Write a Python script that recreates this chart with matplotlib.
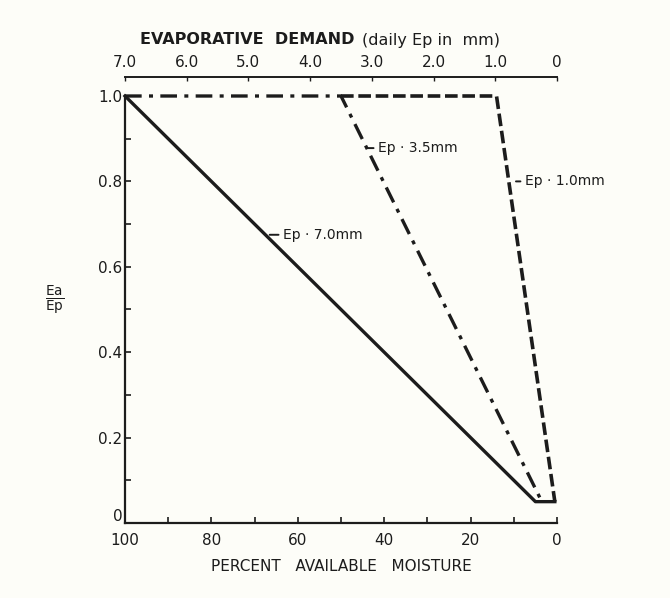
import matplotlib.pyplot as plt
from matplotlib.ticker import MultipleLocator
from matplotlib.transforms import ScaledTranslation

# Data
moist_70 = [100, 5, 0.5]
ratio_70 = [1.0, 0.05, 0.05]
moist_35 = [100, 50, 4]
ratio_35 = [1.0, 1.0, 0.06]
moist_10 = [50, 14, 0.5]
ratio_10 = [1.0, 1.0, 0.05]

x_ticks = [100, 80, 60, 40, 20, 0]
y_ticks = [0, 0.2, 0.4, 0.6, 0.8, 1.0]
y_labels = ["0", "0.2", "0.4", "0.6", "0.8", "1.0"]
ep_ticks = [7.0, 6.0, 5.0, 4.0, 3.0, 2.0, 1.0, 0]
ep_labels = ["7.0", "6.0", "5.0", "4.0", "3.0", "2.0", "1.0", "0"]

ink = "#1c1c1c"
bg = "#fdfdf8"

fig = plt.figure(figsize=(6.7, 5.98), dpi=100, facecolor=bg)
ax = fig.add_axes([125 / 670, 1 - 523 / 598, 432 / 670, 427 / 598], facecolor=bg)

ax.plot(moist_70, ratio_70, color=ink, lw=2.4, clip_on=False)
ax.plot(moist_35, ratio_35, color=ink, lw=2.4, dashes=(5, 2.2, 1.2, 2.2), clip_on=False)
ax.plot(moist_10, ratio_10, color=ink, lw=2.6, dashes=(3.5, 1.3), clip_on=False)

ax.set_xlim(100, 0)
ax.set_ylim(0, 1.0)
ax.spines["top"].set_visible(False)
ax.spines["right"].set_visible(False)
for s in ("left", "bottom"):
    ax.spines[s].set_linewidth(1.6)
    ax.spines[s].set_color(ink)

ax.set_xticks(x_ticks)
ax.set_yticks(y_ticks)
ax.set_yticklabels(y_labels)
ax.xaxis.set_minor_locator(MultipleLocator(10))
ax.yaxis.set_minor_locator(MultipleLocator(0.1))
ax.tick_params(which="both", direction="in", length=4, width=1.2, color=ink,
               labelsize=11, labelcolor=ink, pad=2)
ax.tick_params(axis="x", pad=7)

# lift the "0" on the y axis so it clears the "100"
zero_lbl = ax.get_yticklabels()[0]
zero_lbl.set_transform(zero_lbl.get_transform() + ScaledTranslation(0, 6 / 72, fig.dpi_scale_trans))

ax.set_xlabel("PERCENT   AVAILABLE   MOISTURE", fontsize=11, color=ink, labelpad=8)
fig.text(55 / 670, 1 - 300 / 598, r"$\frac{\mathrm{Ea}}{\mathrm{Ep}}$", fontsize=14,
         color=ink, ha="center", va="center")

# top scale: evaporative demand
top = ax.secondary_xaxis((523 - 77) / 427, functions=(lambda p: p * 0.07, lambda e: e / 0.07))
top.set_xticks(ep_ticks)
top.set_xticklabels(ep_labels)
top.tick_params(direction="in", length=3, width=1.0, labelsize=11, labelcolor=ink, color=ink, pad=5)
top.spines["top"].set_linewidth(1.4)
top.spines["top"].set_color(ink)
fig.text(355 / 670, 1 - 40 / 598, "EVAPORATIVE  DEMAND", fontsize=11.5, fontweight="bold",
         color=ink, ha="right", va="center")
fig.text(362 / 670, 1 - 40 / 598, "(daily Ep in  mm)", fontsize=11.5,
         color=ink, ha="left", va="center")

# curve labels
labels = [("Ep · 7.0mm", 66.5, 0.675, 63.5), ("Ep · 3.5mm", 44, 0.878, 41.5),
          ("Ep · 1.0mm", 9.5, 0.80, 7.5)]
for txt, px, py, tx in labels:
    ax.annotate(txt, xy=(px, py), xytext=(tx, py), fontsize=10, color=ink,
                va="center", ha="left",
                arrowprops=dict(arrowstyle="-", color=ink, lw=1.4, shrinkA=1, shrinkB=0))

fig.savefig("out.png", dpi=100, facecolor=bg)
